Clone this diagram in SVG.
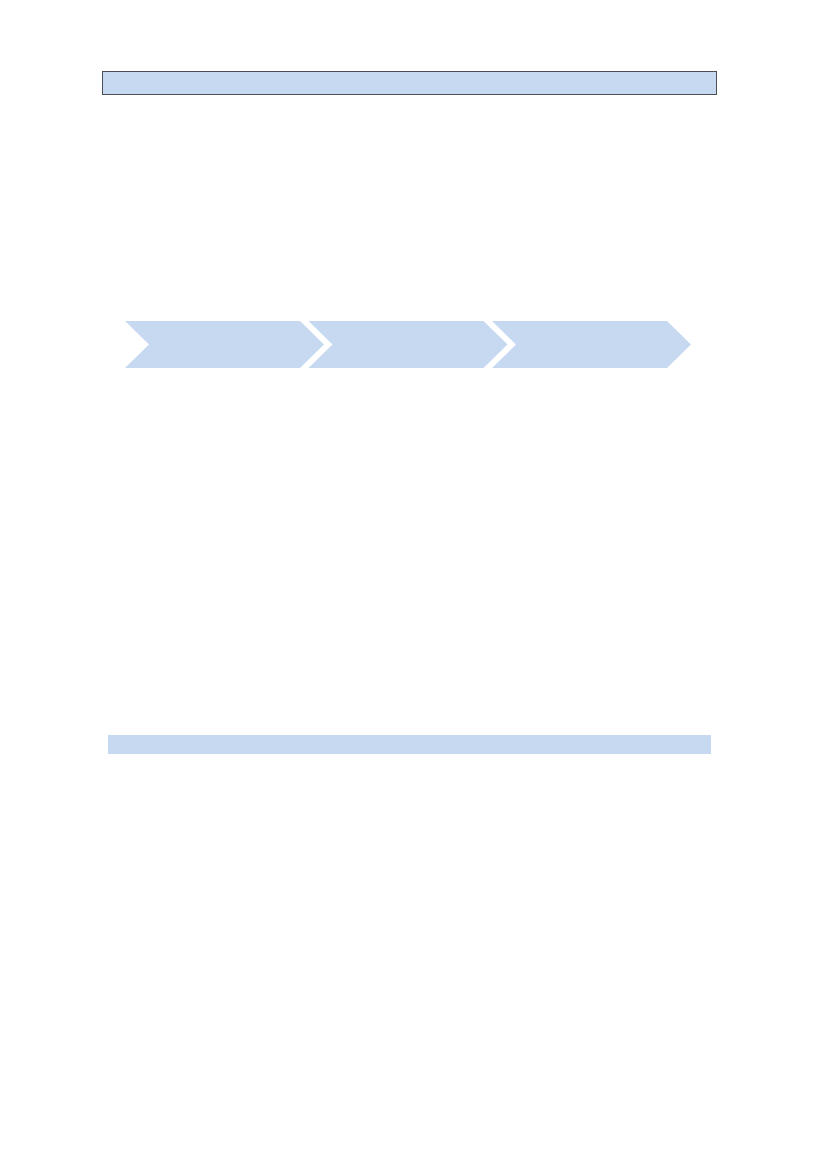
<svg xmlns="http://www.w3.org/2000/svg" width="827" height="1169" viewBox="0 0 827 1169">
<style>
.bar{fill:#c6d9f1}
.chev{fill:#c6d9f1}
</style>
<rect width="827" height="1169" fill="#ffffff"/>
<g id="header-bar"><rect class="bar" x="102.5" y="71.5" width="614" height="23" stroke="#4a4f58" stroke-width="1"/></g>
<g id="connectors"></g>
<g id="step-1"><polygon class="chev" points="125,321 300,321 324,344.5 300,368 125,368 149,344.5"/></g>
<g id="step-2"><polygon class="chev" points="308.5,321 483.5,321 507.5,344.5 483.5,368 308.5,368 332.5,344.5"/></g>
<g id="step-3"><polygon class="chev" points="492,321 667,321 691,344.5 667,368 492,368 516,344.5"/></g>
<g id="footer-bar"><rect class="bar" x="108" y="735" width="603" height="19"/></g>
</svg>
